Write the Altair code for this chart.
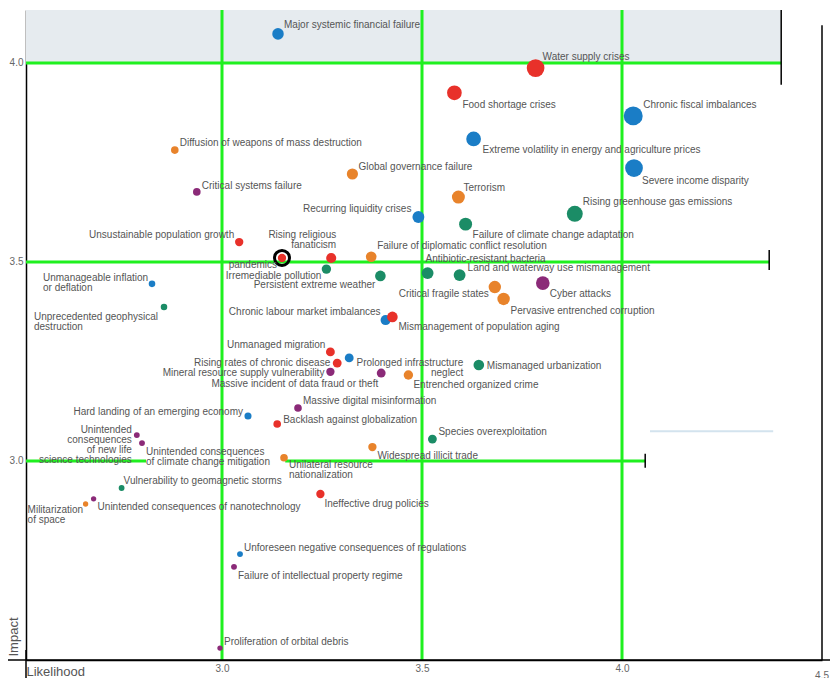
import altair as alt
import pandas as pd

FONT = "Liberation Sans, Arial, Helvetica, sans-serif"

names = [
    "Major systemic financial failure", "Water supply crises", "Food shortage crises",
    "Chronic fiscal imbalances", "Extreme volatility in energy and agriculture prices",
    "Severe income disparity", "Diffusion of weapons of mass destruction",
    "Global governance failure", "Critical systems failure", "Terrorism",
    "Rising greenhouse gas emissions", "Recurring liquidity crises",
    "Failure of climate change adaptation", "Unsustainable population growth",
    "Rising religious\nfanaticism", "pandemics", "Failure of diplomatic conflict resolution",
    "Irremediable pollution", "Persistent extreme weather", "Antibiotic-resistant bacteria",
    "Land and waterway use mismanagement", "Critical fragile states",
    "Pervasive entrenched corruption", "Cyber attacks", "Unmanageable inflation\nor deflation",
    "Unprecedented geophysical\ndestruction", "Chronic labour market imbalances",
    "Mismanagement of population aging", "Unmanaged migration",
    "Prolonged infrastructure\nneglect", "Rising rates of chronic disease",
    "Mineral resource supply vulnerability", "Massive incident of data fraud or theft",
    "Entrenched organized crime", "Mismanaged urbanization", "Massive digital misinformation",
    "Hard landing of an emerging economy", "Backlash against globalization",
    "Species overexploitation",
    "Unintended\nconsequences\nof new life\nscience technologies",
    "Unintended consequences\nof climate change mitigation", "Widespread illicit trade",
    "Unilateral resource\nnationalization", "Vulnerability to geomagnetic storms",
    "Unintended consequences of nanotechnology", "Militarization\nof space",
    "Ineffective drug policies", "Unforeseen negative consequences of regulations",
    "Failure of intellectual property regime", "Proliferation of orbital debris",
]

likelihood = [
    3.140, 3.784, 3.581, 4.028, 3.629, 4.030, 2.882, 3.326, 2.937, 3.591,
    3.882, 3.491, 3.609, 3.043, 3.273, 3.150, 3.373, 3.261, 3.396, 3.514,
    3.594, 3.682, 3.704, 3.802, 2.825, 2.855, 3.409, 3.426, 3.271, 3.318,
    3.288, 3.271, 3.398, 3.466, 3.642, 3.190, 3.065, 3.138, 3.526, 2.787,
    2.800, 3.376, 3.155, 2.749, 2.679, 2.659, 3.246, 3.045, 3.030, 2.995,
]

impact = [
    4.073, 3.987, 3.925, 3.867, 3.809, 3.736, 3.781, 3.721, 3.676, 3.663,
    3.621, 3.613, 3.595, 3.550, 3.510, 3.510, 3.513, 3.482, 3.465, 3.472,
    3.467, 3.437, 3.407, 3.447, 3.445, 3.387, 3.354, 3.362, 3.274, 3.259,
    3.246, 3.224, 3.221, 3.216, 3.241, 3.133, 3.113, 3.093, 3.055, 3.065,
    3.045, 3.035, 3.008, 2.932, 2.905, 2.892, 2.917, 2.766, 2.734, 2.530,
]

category = [
    "Economic", "Societal", "Societal", "Economic", "Economic", "Economic",
    "Geopolitical", "Geopolitical", "Technological", "Geopolitical",
    "Environmental", "Economic", "Environmental", "Societal", "Societal", "Societal",
    "Geopolitical", "Environmental", "Environmental", "Environmental",
    "Environmental", "Geopolitical", "Geopolitical", "Technological", "Economic",
    "Environmental", "Economic", "Societal", "Societal", "Economic",
    "Societal", "Technological", "Technological", "Geopolitical", "Environmental",
    "Technological", "Economic", "Societal", "Environmental", "Technological",
    "Technological", "Geopolitical", "Geopolitical", "Environmental", "Technological",
    "Geopolitical", "Societal", "Economic", "Technological", "Technological",
]

weight = [
    6.5, 10.0, 8.3, 10.7, 8.3, 10.0, 4.3, 6.3, 4.3, 7.3,
    9.0, 6.7, 7.3, 4.7, 5.7, 4.7, 6.0, 5.3, 6.0, 6.7,
    6.7, 7.0, 7.0, 7.7, 3.7, 3.7, 5.7, 6.0, 5.0, 5.0,
    5.0, 4.7, 5.0, 5.3, 6.0, 4.3, 4.0, 4.3, 5.0, 3.3,
    3.3, 4.7, 4.3, 3.3, 3.0, 3.0, 4.7, 3.3, 3.3, 3.0,
]

# label placement (pixel offsets from the bubble centre to the first text line, and alignment)
label_dx = [
    6, 7, 8, 10, 9, 8, 5, 6, 5, 5,
    8, -7, 7, -5, 5, -5, 6, -5, -5, -2,
    8, -6, 7, 7, -109, -130, -5, 6, -5, 114,
    -7, -6, -3, 5, 8, 5, -5, 6, 6, -5,
    4, 5, 5, 2, 4, -58, 4, 4, 4, 4,
]
label_dy = [
    -10, -12, 12, -12, 10, 12, -8, -8, -7, -10,
    -12, -9, 10, -8, -24, 6, -11, 6, 8, -15,
    -8, 6, 11, 10, -7, 9, -9, 9, -8, 4,
    -1, 0, 10, 9, 0, -8, -5, -5, -8, -6,
    8, 8, 7, -8, 8, 5, 9, -7, 8, -7,
]
label_align = [
    "left", "left", "left", "left", "left", "left", "left", "left", "left", "left",
    "left", "right", "left", "right", "right", "right", "left", "right", "right", "left",
    "left", "right", "left", "left", "left", "left", "right", "left", "right", "right",
    "right", "right", "right", "left", "left", "left", "right", "left", "left", "right",
    "left", "left", "left", "left", "left", "left", "left", "left", "left", "left",
]

cat_names = ["Economic", "Environmental", "Geopolitical", "Societal", "Technological"]
cat_colors = ["#1a7dc6", "#1b8c66", "#e8832b", "#e8312a", "#8b2a78"]

# reference lines (green) and background band
hline_y = [4.0, 3.5, 3.0, 3.0]
hline_x0 = [2.51, 2.51, 2.51, 3.158]
hline_x1 = [4.398, 4.368, 2.81, 4.058]
vline_x = [3.0, 3.5, 4.0]
band_x = [2.51, 4.398]
band_y = [4.0, 4.133]
end_tick_x = [4.398, 4.368, 4.058, 4.5]
end_tick_y0 = [3.945, 3.48, 2.983, 2.5]
end_tick_y1 = [4.133, 3.53, 3.018, 4.095]
pale_line = dict(y=3.075, x0=4.07, x1=4.378)

XD = [2.51, 4.5]
YD = [2.5, 4.133]
W, H = 796, 650
PX_X = W / (XD[1] - XD[0])
PX_Y = H / (YD[1] - YD[0])
LABEL_SIZE = 10
TOP_SHIFT = 0.43 * LABEL_SIZE

df = pd.DataFrame({
    "name": names, "likelihood": likelihood, "impact": impact,
    "category": category, "weight": weight,
    "ldx": label_dx, "ldy": label_dy, "align": label_align,
})


def xenc(field):
    return alt.X(
        f"{field}:Q",
        scale=alt.Scale(domain=XD, nice=False, zero=False),
        axis=alt.Axis(
            values=[3.0, 3.5, 4.0], format=".1f", title="Likelihood", grid=False,
            ticks=False, domainColor="#000000", domainWidth=1.5,
            labelColor="#666666", labelFontSize=10, labelFont=FONT, labelPadding=3,
            titleX=0, titleY=11, titleAlign="left", titleBaseline="middle",
            titleFontSize=13, titleFontWeight="normal", titleColor="#555555",
            titleFont=FONT,
        ),
    )


def yenc(field):
    return alt.Y(
        f"{field}:Q",
        scale=alt.Scale(domain=YD, nice=False, zero=False),
        axis=alt.Axis(
            values=[3.0, 3.5, 4.0], format=".1f", title="Impact", grid=False,
            ticks=False, domainColor="#000000", domainWidth=1.5,
            labelColor="#666666", labelFontSize=10, labelFont=FONT, labelPadding=3,
            titleAngle=270, titleX=-13, titleY=646, titleAlign="left",
            titleBaseline="middle", titleFontSize=13, titleFontWeight="normal",
            titleColor="#555555", titleFont=FONT,
        ),
    )


band = alt.Chart(pd.DataFrame({"x0": [band_x[0]], "x1": [band_x[1]],
                               "y0": [band_y[0]], "y1": [band_y[1]]})).mark_rect(
    color="#e6ebef").encode(x=xenc("x0"), x2="x1", y=yenc("y0"), y2="y1")

hl = alt.Chart(pd.DataFrame({"y": hline_y, "x0": hline_x0, "x1": hline_x1})).mark_rule(
    color="#1ff01f", strokeWidth=3).encode(x=xenc("x0"), x2="x1", y=yenc("y"))

vl = alt.Chart(pd.DataFrame({"x": vline_x, "y0": [YD[0]] * 3, "y1": [YD[1]] * 3})).mark_rule(
    color="#1ff01f", strokeWidth=3).encode(x=xenc("x"), y=yenc("y0"), y2="y1")

ticks = alt.Chart(pd.DataFrame({"x": end_tick_x, "y0": end_tick_y0, "y1": end_tick_y1})).mark_rule(
    color="#000000", strokeWidth=1.5).encode(x=xenc("x"), y=yenc("y0"), y2="y1")

pale = alt.Chart(pd.DataFrame({"y": [pale_line["y"]], "x0": [pale_line["x0"]],
                               "x1": [pale_line["x1"]]})).mark_rule(
    color="#d3e3ee", strokeWidth=2).encode(x=xenc("x0"), x2="x1", y=yenc("y"))

axis_ext = alt.Chart(pd.DataFrame({"k": [0]})).mark_rule(color="#000000", strokeWidth=1.5).encode(
    x=alt.value(-30), x2=alt.value(830), y=alt.value(H))
axis_ext2 = alt.Chart(pd.DataFrame({"k": [0]})).mark_rule(color="#000000", strokeWidth=1.5).encode(
    x=alt.value(0), y=alt.value(H - 10), y2=alt.value(H + 30))

bubbles = alt.Chart(df).mark_circle(opacity=1).encode(
    x=xenc("likelihood"), y=yenc("impact"),
    color=alt.Color("category:N", scale=alt.Scale(domain=cat_names, range=cat_colors), legend=None),
    size=alt.Size("weight:Q", scale=alt.Scale(type="pow", exponent=2, domain=[0, 11], range=[0, 380]),
                  legend=None),
)

ring = alt.Chart(df).transform_filter(alt.datum.name == "pandemics").mark_point(
    shape="circle", filled=False, stroke="#000000", strokeWidth=3, size=225, opacity=1
).encode(x=xenc("likelihood"), y=yenc("impact"))


def labels(align):
    return alt.Chart(df).transform_filter(alt.datum.align == align).transform_calculate(
        lx=f"datum.likelihood + datum.ldx / {PX_X}",
        ly=f"datum.impact - (datum.ldy - {TOP_SHIFT}) / {PX_Y}",
    ).mark_text(
        align=align, baseline="top", font=FONT, fontSize=LABEL_SIZE, color="#555555",
        lineBreak="\n", lineHeight=10,
    ).encode(
        x=xenc("lx"), y=yenc("ly"), text="name:N",
    )


last_tick = alt.Chart(pd.DataFrame({"v": [4.5], "b": [2.5]})).mark_text(
    font=FONT, fontSize=10, color="#666666", baseline="top", dy=11
).encode(x=xenc("v"), y=yenc("b"), text=alt.value("4.5"))

chart = alt.layer(
    band, pale, hl, vl, ticks, axis_ext, axis_ext2, bubbles, ring,
    labels("left"), labels("right"), last_tick,
).properties(
    width=W, height=H,
    autosize=alt.AutoSizeParams(type="none"),
    padding={"left": 18, "top": 2, "right": 8, "bottom": 18},
).configure_view(stroke=None)

chart.save("out.html", embed_options={"renderer": "svg", "actions": False})
